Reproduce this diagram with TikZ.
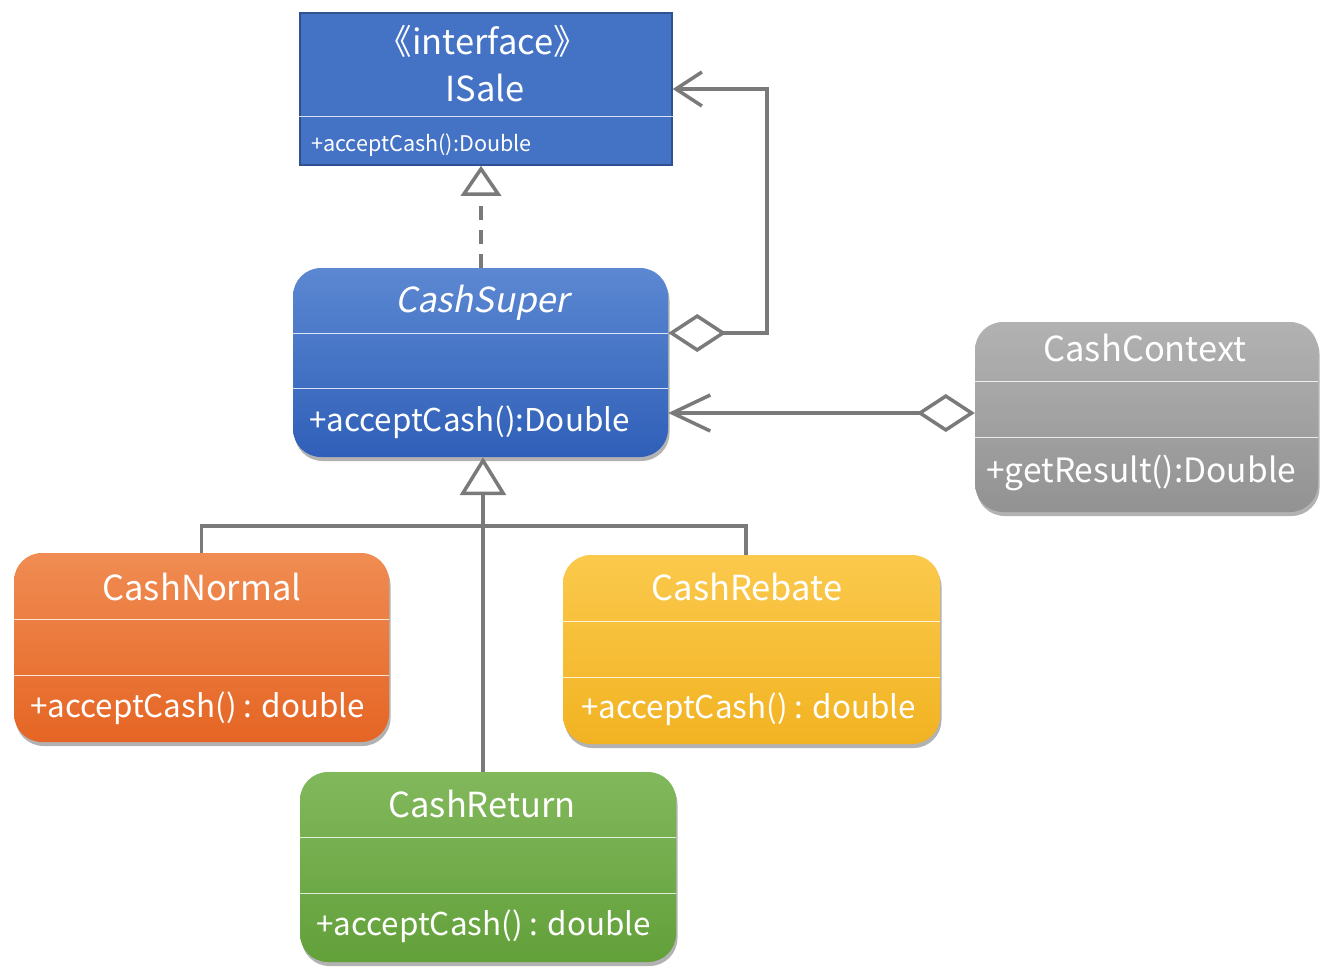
\documentclass[tikz,border=0pt]{standalone}
\usepackage{fontspec}
\setmainfont{Noto Sans CJK SC}
\newfontfamily\slfont{Noto Sans CJK SC}[FakeSlant=0.2]
\usetikzlibrary{arrows.meta,shadows}
\definecolor{linegray}{HTML}{7A7A7A}
\definecolor{isaleF}{HTML}{4472C4}
\definecolor{isaleD}{HTML}{2F528F}
\definecolor{supT}{HTML}{5C88D2}
\definecolor{supB}{HTML}{2F5FB8}
\definecolor{ctxT}{HTML}{B2B2B2}
\definecolor{ctxB}{HTML}{929292}
\definecolor{norT}{HTML}{F08C52}
\definecolor{norB}{HTML}{E56524}
\definecolor{rebT}{HTML}{FBC94C}
\definecolor{rebB}{HTML}{F2B322}
\definecolor{retT}{HTML}{82B85C}
\definecolor{retB}{HTML}{62A03A}
\tikzset{
  classbox/.style={rectangle, rounded corners=28pt, inner sep=0pt,
    drop shadow={shadow xshift=1.5pt, shadow yshift=-4pt, opacity=0.3, fill=black}},
  divider/.style={draw=white, draw opacity=0.8, line width=1pt},
  titletext/.style={text=white, font=\fontsize{34.5}{40}\selectfont, inner sep=0pt, anchor=base},
  methtext/.style={text=white, font=\fontsize{31.4}{36}\selectfont, inner sep=0pt, anchor=base west},
  conn/.style={draw=linegray, line width=3.5pt},
}
\begin{document}
\begin{tikzpicture}[x=1pt,y=-1pt]
\useasboundingbox[fill=white] (0,0) rectangle (1337,979);

% ISale
\node[rectangle, draw=isaleD, line width=1.5pt, fill=isaleF, minimum width=372pt, minimum height=152pt, inner sep=0pt] (isale) at (486,89) {};
\draw[divider] (isale.west |- 0,117) -- (isale.east |- 0,117);
\node[titletext] (isaleS) at (483,55) {《interface》};
\node[titletext] (isaleT) at (485,102) {ISale};
\node[methtext, font=\fontsize{21.6}{26}\selectfont] (isaleM) at (311,151) {+acceptCash():Double};

% CashSuper
\node[classbox, minimum width=375pt, minimum height=189pt, top color=supT, bottom color=supB] (super) at (480.5,362.5) {};
\draw[divider] (super.west |- 0,333) -- (super.east |- 0,333);
\draw[divider] (super.west |- 0,388) -- (super.east |- 0,388);
\node[titletext] (superT) at (482,312) {\slfont CashSuper};
\node[methtext] (superM) at (309,431) {+acceptCash():Double};

% CashContext
\node[classbox, minimum width=343pt, minimum height=190pt, top color=ctxT, bottom color=ctxB] (ctx) at (1146.5,417) {};
\draw[divider] (ctx.west |- 0,381) -- (ctx.east |- 0,381);
\draw[divider] (ctx.west |- 0,437) -- (ctx.east |- 0,437);
\node[titletext] (ctxT) at (1145,361) {CashContext};
\node[methtext, font=\fontsize{33.5}{38}\selectfont] (ctxM) at (986,482) {+getResult():Double};

% CashNormal
\node[classbox, minimum width=375pt, minimum height=189pt, top color=norT, bottom color=norB] (normal) at (201.5,647.5) {};
\draw[divider] (normal.west |- 0,619) -- (normal.east |- 0,619);
\draw[divider] (normal.west |- 0,675) -- (normal.east |- 0,675);
\node[titletext] (normalT) at (202,600) {CashNormal};
\node[methtext] (normalM) at (30,717) {+acceptCash() : double};

% CashRebate
\node[classbox, minimum width=377pt, minimum height=189pt, top color=rebT, bottom color=rebB] (rebate) at (751.5,649.5) {};
\draw[divider] (rebate.west |- 0,621) -- (rebate.east |- 0,621);
\draw[divider] (rebate.west |- 0,677) -- (rebate.east |- 0,677);
\node[titletext] (rebateT) at (747,600) {CashRebate};
\node[methtext] (rebateM) at (581,718) {+acceptCash() : double};

% CashReturn
\node[classbox, minimum width=376pt, minimum height=190pt, top color=retT, bottom color=retB] (ret) at (488,867) {};
\draw[divider] (ret.west |- 0,837) -- (ret.east |- 0,837);
\draw[divider] (ret.west |- 0,893) -- (ret.east |- 0,893);
\node[titletext] (retT) at (482,817) {CashReturn};
\node[methtext] (retM) at (316,935) {+acceptCash() : double};

% realization CashSuper -> ISale
\draw[conn, dash pattern=on 14pt off 10pt, -{Triangle[open, length=30pt, width=40pt]}]
  (super.north -| 481,0) -- (isale.south -| 481,0);

% aggregation CashSuper -> ISale
\draw[conn, {Diamond[open, length=58pt, width=38pt]}-{Straight Barb[length=26pt, width=34pt]}]
  (super.east |- 0,333) -- (767,333) |- (isale.east);

% aggregation CashContext -> CashSuper
\draw[conn, {Diamond[open, length=58pt, width=38pt]}-{Straight Barb[length=38pt, width=36pt]}]
  (ctx.west |- 0,413) -- (super.east |- 0,413);

% generalization
\draw[conn, -{Triangle[open, length=38pt, width=46pt]}]
  (ret.north -| 483,0) -- (super.south -| 483,0);
\draw[conn] (normal.north) -- (201.5,526) -- (746,526) -- (rebate.north -| 746,0);
\end{tikzpicture}
\end{document}
